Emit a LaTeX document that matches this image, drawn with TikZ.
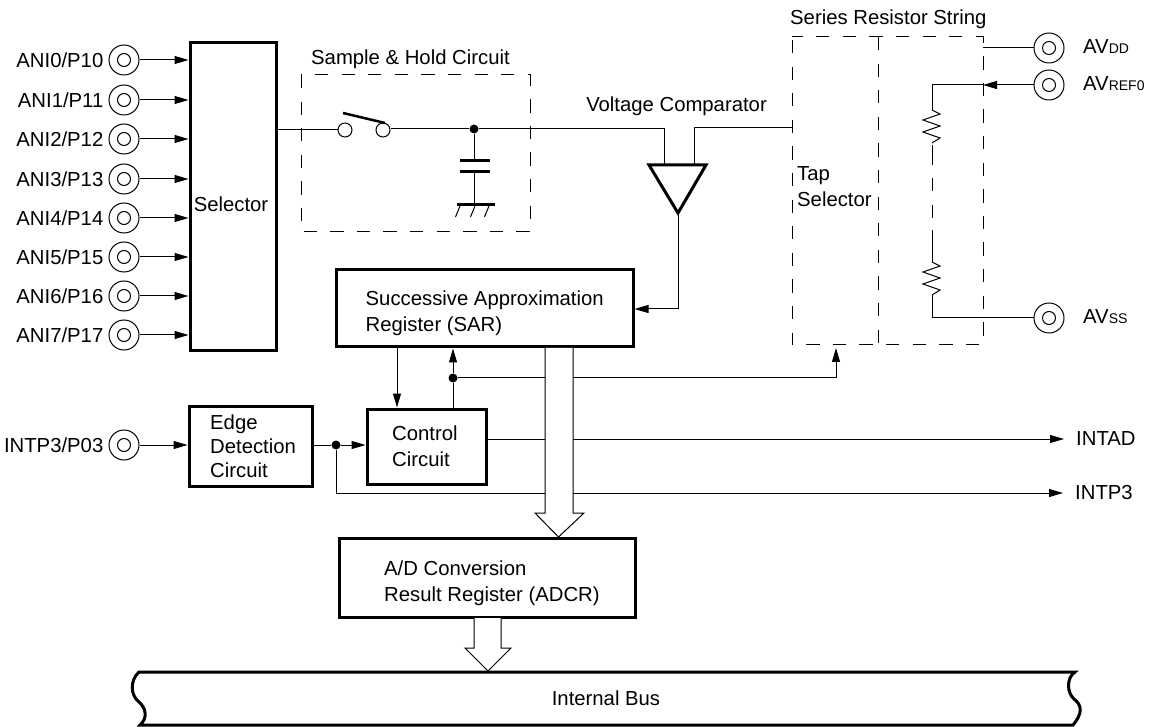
\documentclass[tikz,border=0pt]{standalone}
\usepackage{fontspec}
\setmainfont{Liberation Sans}
\usetikzlibrary{arrows.meta,positioning}
\tikzset{
    lbl/.style={font=\fontsize{20.3}{26}\selectfont, inner sep=0pt, align=left},
    blockbox/.style={draw, line width=3pt, inner sep=0pt},
    terminal/.style={circle, draw, line width=1pt, minimum size=30pt, inner sep=0pt,
        path picture={\draw[line width=1pt] (path picture bounding box.center) circle (6.5);}},
    contact/.style={circle, draw, line width=1pt, minimum size=14pt, inner sep=0pt},
    junction/.style={circle, fill, minimum size=9pt, inner sep=0pt},
    wire/.style={line width=1pt},
    sig/.style={wire, -{Triangle[length=14pt,width=8pt]}},
    dashline/.style={line width=1pt, dash pattern=on 13.3pt off 13.3pt},
    hollow/.style={draw, line width=1pt, fill=white, line join=miter},
}
\newcommand{\subtxt}[1]{{\fontsize{14}{14}\selectfont #1}}
\begin{document}
\begin{tikzpicture}[x=1pt,y=-1pt,node distance=5pt]
    \useasboundingbox (0,0) rectangle (1149,727);
    % blocks
    \node[blockbox, minimum width=86pt, minimum height=308pt] (sel) at (233,197) {};
    \node[blockbox, minimum width=297pt, minimum height=77pt] (sar) at (484.5,308.5) {};
    \node[blockbox, minimum width=123pt, minimum height=80pt] (edge) at (250.5,446) {};
    \node[blockbox, minimum width=119pt, minimum height=75pt] (ctrl) at (426.5,446.5) {};
    \node[blockbox, minimum width=296pt, minimum height=79pt] (adcr) at (487,577.5) {};
    \node[lbl] (seltext) at (231,204) {Selector};
    \node[lbl, right=31pt of sar.west, yshift=-5pt] (sartext) {Successive Approximation\\Register (SAR)};
    \node[lbl, anchor=base west, font=\fontsize{20.3}{24}\selectfont] (edgetext) at (210,477) {Edge\\Detection\\Circuit};
    \node[lbl, anchor=base west] (ctrltext) at (392,466) {Control\\Circuit};
    \node[lbl, anchor=base west] (adcrtext) at (384,601) {A/D Conversion\\Result Register (ADCR)};
    % input pins
    \foreach \n/\y in {0/60,1/100,2/139,3/179,4/218,5/257,6/296,7/335} {
        \node[terminal] (ani\n) at (124,\y) {};
        \node[lbl, left=5pt of ani\n] (ani\n text) {ANI\n/P1\n};
        \draw[sig] (ani\n) -- (ani\n -| sel.west);
    }
    \node[terminal] (intp) at (124,445) {};
    \node[lbl, left=5pt of intp] (intptext) {INTP3/P03};
    \draw[sig] (intp) -- (edge.west |- intp);
    % sample and hold
    \draw[dashline] (301,75) rectangle (530,232);
    \node[lbl, anchor=base west] (shtext) at (311,65) {Sample \& Hold Circuit};
    \node[contact] (sw1) at (345,130) {};
    \node[contact] (sw2) at (383,130) {};
    \node[junction] (capdot) at (474,129) {};
    \coordinate (cmpin) at (664,165);
    \coordinate (cmpref) at (694,165);
    \coordinate (gnd) at (474,205);
    \draw[wire] (sel.east |- sw1) -- (sw1);
    \draw[wire] (sw2.east |- capdot) -- (capdot);
    \draw[wire] (capdot) -| (cmpin);
    \draw[line width=2.5pt] (343,113) -- (385,123);
    \draw[wire] (capdot) -- (gnd);
    \fill[white] (458,161) rectangle (492,172);
    \draw[line width=3pt] (460,161) -- (490,161);
    \draw[line width=3pt] (460,172) -- (490,172);
    \draw[line width=3pt] (457,205) -- (495,205);
    \foreach \hx in {460,475,489} {
        \draw[wire] (\hx,206) -- ++(-4.5,11);
    }
    % comparator
    \node[lbl, anchor=base east] (cmptext) at (767,112) {Voltage Comparator};
    \coordinate (cmpout) at (678,213);
    \draw[line width=3pt, line join=miter] (649,165) -- (706,165) -- (cmpout) -- cycle;
    \draw[sig] (cmpout) |- (sar.east |- 0,309);
    % resistor string
    \draw[dashline] (792,40) -- (792,345) -- (983,345) -- (983,37) -- (792,37);
    \draw[dashline] (878,37) -- (878,345);
    \coordinate (tapin) at (792,128);
    \coordinate (tapctl) at (836,348);
    \draw[wire] (cmpref) |- (tapin);
    \node[lbl, anchor=base west] (srtext) at (790,25) {Series Resistor String};
    \node[lbl, anchor=base west] (taptext) at (797,207) {Tap\\Selector};
    \node[terminal] (avdd) at (1049,48) {};
    \node[terminal] (avref) at (1049,85) {};
    \node[terminal] (avss) at (1049,318) {};
    \node[lbl, anchor=base west] (avddtext) at (1083,54) {AV\subtxt{DD}};
    \node[lbl, anchor=base west] (avreftext) at (1083,91) {AV\subtxt{REF0}};
    \node[lbl, anchor=base west] (avsstext) at (1083,324) {AV\subtxt{SS}};
    \coordinate (rtop) at (932,110);
    \coordinate (rbot) at (932,295);
    \coordinate (rarrow) at (983,85);
    \draw[wire] (avdd) -- (avdd -| 983,0);
    \draw[sig] (avref) -- (rarrow);
    \draw[wire] (rarrow) -| (rtop);
    \draw[wire] (rbot) |- (avss);
    \foreach \ry in {110,262} {
        \draw[wire] (932,\ry) -- ++(8,4) -- ++(-17,6) -- ++(17,6) -- ++(-17,6) -- ++(17,6) -- ++(-8,5);
    }
    \draw[wire] (932,145) -- (932,165);
    \draw[dashline] (932,178) -- (932,230);
    \draw[wire] (932,230) -- (932,262);
    % control wires
    \node[junction] (sardot) at (453,378) {};
    \node[junction] (edgedot) at (336,445) {};
    \node[lbl, anchor=west] (intadtext) at (1076,439) {INTAD};
    \node[lbl, anchor=west] (intp3text) at (1075,493) {INTP3};
    \draw[sig] (sar.south -| 397,0) -- (ctrl.north -| 397,0);
    \draw[wire] (ctrl.north -| sardot) -- (sardot);
    \draw[sig] (sardot) -- (sar.south -| sardot);
    \draw[sig] (sardot) -| (tapctl);
    \draw[wire] (edge.east |- edgedot) -- (edgedot);
    \draw[sig] (edgedot) -- (ctrl.west |- edgedot);
    \draw[sig, shorten >=12pt] (ctrl.east |- intadtext) -- (intadtext);
    \draw[sig, shorten >=12pt] (edgedot) |- (intp3text);
    % data arrows
    \draw[hollow] (545,348) -- (545,513) -- (535,513) -- (558.5,537) -- (584,513) -- (573,513) -- (573,348);
    \draw[hollow] (474,618) -- (474,648) -- (465,648) -- (488,671) -- (511,648) -- (501,648) -- (501,618);
    % bus
    \draw[line width=3pt] (139,672) -- (1075,672)
        .. controls (1066,678) and (1067,693) .. (1074,699)
        .. controls (1082,705) and (1083,713) .. (1073,725)
        -- (140,725)
        .. controls (148,718) and (146,708) .. (139,702)
        .. controls (130,695) and (130,680) .. (139,672) -- cycle;
    \node[lbl, anchor=base] (bustext) at (606,705) {Internal Bus};
\end{tikzpicture}
\end{document}
